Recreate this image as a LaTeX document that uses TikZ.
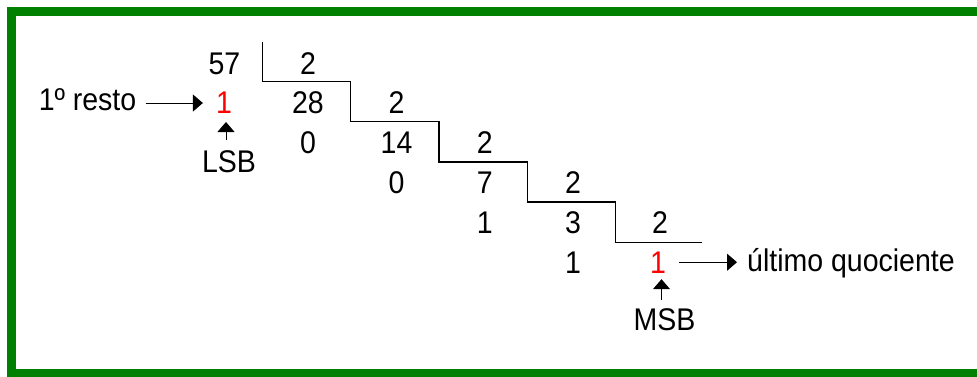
\documentclass[tikz,border=0pt]{standalone}
\usepackage{fontspec}
\setmainfont{Liberation Sans}
\usepackage{graphicx}
\usetikzlibrary{arrows.meta,calc}
\definecolor{framegreen}{RGB}{0,128,0}
\newcommand\vtxt[1]{\scalebox{1}[1.1]{#1}}
\begin{document}
\begin{tikzpicture}[x=1pt,y=-1pt,
  lbl/.style={inner sep=0pt, anchor=base, font=\fontsize{28.5}{30}\selectfont},
  redlbl/.style={lbl, text=red},
  arr/.style={line width=1pt, -{Triangle[length=10pt,width=17pt]}},
  stair/.style={line width=1.3pt, line join=miter}]
\useasboundingbox (0,0) rectangle (977,376);
\fill[white] (0,0) rectangle (977,376);
\draw[framegreen, line width=9pt, line join=miter] (980,11.5) -- (11.5,11.5) -- (11.5,373.5) -- (980,373.5);
% staircase
\draw[stair] (262.3,41.7) -- (262.3,81.7) -- (350.6,81.7) -- (350.6,121.8) -- (438.9,121.8)
  -- (438.9,161.9) -- (527.2,161.9) -- (527.2,202.1) -- (615.5,202.1) -- (615.5,242.3) -- (702,242.3);
% column 0
\node[lbl] (n57) at (224.5,74.5) {\vtxt{57}};
\node[redlbl] (r0) at (224,113.8) {\vtxt{1}};
% column 1
\node[lbl] (d1) at (308,74.5) {\vtxt{2}};
\node[lbl] (q1) at (308,113.8) {\vtxt{28}};
\node[lbl] (m1) at (308,153.6) {\vtxt{0}};
% column 2
\node[lbl] (d2) at (396.5,113.8) {\vtxt{2}};
\node[lbl] (q2) at (396.5,153.6) {\vtxt{14}};
\node[lbl] (m2) at (396.5,193.4) {\vtxt{0}};
% column 3
\node[lbl] (d3) at (484.8,153.6) {\vtxt{2}};
\node[lbl] (q3) at (484.8,193.4) {\vtxt{7}};
\node[lbl] (m3) at (484.8,233.2) {\vtxt{1}};
% column 4
\node[lbl] (d4) at (573,193.4) {\vtxt{2}};
\node[lbl] (q4) at (573,233.2) {\vtxt{3}};
\node[lbl] (m4) at (573,273) {\vtxt{1}};
% column 5
\node[lbl] (d5) at (660,233.2) {\vtxt{2}};
\node[redlbl] (r5) at (658,273) {\vtxt{1}};
% labels
\node[lbl, anchor=base east] (resto) at (136.5,110.5) {\vtxt{1º resto}};
\node[lbl] (lsb) at (229,172.5) {\vtxt{LSB}};
\node[lbl] (msb) at (664.5,330) {\vtxt{MSB}};
\node[lbl, anchor=base west] (ult) at (747,271.5) {\vtxt{último quociente}};
% arrows
\draw[arr, shorten <=9pt, shorten >=13pt] (resto.east |- r0.west) -- (r0.west);
\draw[arr, shorten <=10pt, shorten >=8pt] ($(lsb.north -| r0.south)+(2,0)$) -- ($(r0.south)+(2,0)$);
\draw[arr, shorten <=8pt, shorten >=6pt] ($(msb.north -| r5.south)+(3.5,0)$) -- ($(r5.south)+(3.5,0)$);
\draw[arr, shorten <=13pt, shorten >=10pt] (r5.east) -- (r5.east -| ult.west);
\end{tikzpicture}
\end{document}
